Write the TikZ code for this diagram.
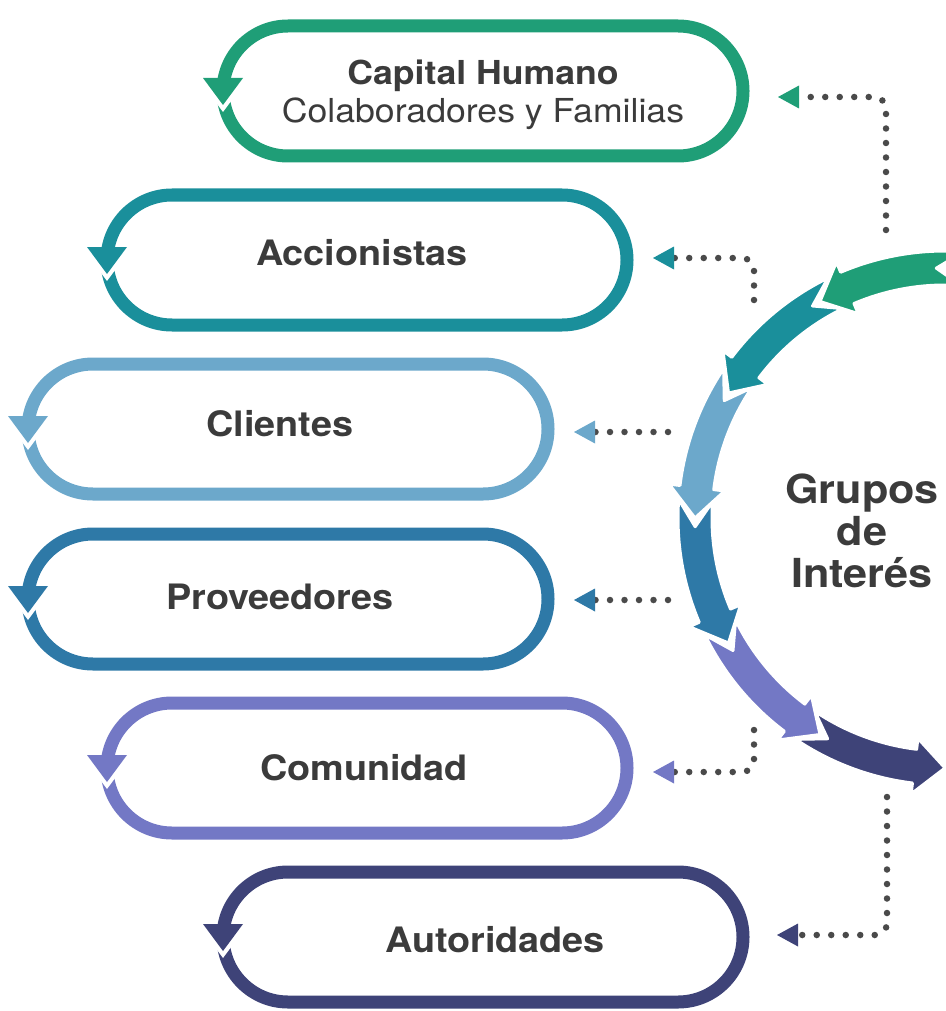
\documentclass[tikz,border=0pt]{standalone}
\usepackage{fontspec}
\setmainfont[FakeStretch=1.08]{TeX Gyre Heros}
\usetikzlibrary{shapes.misc,arrows.meta}
\definecolor{cgreen}{HTML}{1F9E77}
\definecolor{cteal}{HTML}{1A8F9B}
\definecolor{clight}{HTML}{6CA8CB}
\definecolor{cblue}{HTML}{2E79A7}
\definecolor{cviolet}{HTML}{7378C5}
\definecolor{cnavy}{HTML}{3E4378}
\definecolor{dotgray}{HTML}{4A4A4A}
\colorlet{txtgray}{black!77}
\tikzstyle{capsule} =[
    rounded rectangle,
    line width=13,
    minimum width=520,
    minimum height=130,
    inner sep=0,
    outer sep=0
    ]
\tikzstyle{grouplabel} =[
    text=txtgray,
    font=\fontsize{35}{35}\selectfont\bfseries
    ]
\tikzstyle{dotline} =[
    draw=dotgray,
    line width=6.5,
    line cap=round,
    dash pattern=on 0pt off 14.5pt,
    rounded corners=12
    ]
\tikzset{tipto/.style={-{Triangle[length=21pt, width=23pt, line width=0pt, color=#1, sep=11pt]}}}
\newcommand{\ringseg}[2]{% ring piece: colour, start angle
  \filldraw[fill=#1, draw=white, line width=3, line join=round]
    ({#2-4}:267) arc[start angle={#2-4}, end angle={#2+23}, radius=267]
    -- ({#2+23}:278) -- ({#2+30}:250) -- ({#2+23}:222) -- ({#2+23}:233)
    arc[start angle={#2+23}, end angle={#2-4}, radius=233]
    -- ({#2+2}:250) -- cycle;}
\newcommand{\caphead}[2]{% head on the left of a capsule
  \fill[white] ([shift={(-20,-6)}]#2.west) -- ([shift={(20,-6)}]#2.west) -- ([shift={(0,21)}]#2.west) -- cycle;
  \fill[#1] ([shift={(-20,-13)}]#2.west) -- ([shift={(20,-13)}]#2.west) -- ([shift={(0,14)}]#2.west) -- cycle;}

\begin{document}
\begin{tikzpicture}[x=1pt, y=-1pt]
\useasboundingbox (0,0) rectangle (945,1011);

% capsules
\node[capsule, draw=cgreen] (cap1) at (483,91) {};
\node[capsule, draw=cteal] (cap2) at (367,260) {};
\node[capsule, draw=clight] (cap3) at (288,429) {};
\node[capsule, draw=cblue] (cap4) at (288,599) {};
\node[capsule, draw=cviolet] (cap5) at (367,768) {};
\node[capsule, draw=cnavy] (cap6) at (483,937) {};
\caphead{cgreen}{cap1}
\caphead{cteal}{cap2}
\caphead{clight}{cap3}
\caphead{cblue}{cap4}
\caphead{cviolet}{cap5}
\caphead{cnavy}{cap6}

\node[text=txtgray, align=center, font=\fontsize{33}{38}\selectfont] (lab1) at (483,95)
    {\textbf{Capital Humano}\\Colaboradores y Familias};
\node[grouplabel] (lab2) at (362,253) {Accionistas};
\node[grouplabel] (lab3) at (280,424) {Clientes};
\node[grouplabel] (lab4) at (280,597) {Proveedores};
\node[grouplabel] (lab5) at (364,768) {Comunidad};
\node[grouplabel] (lab6) at (495,940) {Autoridades};

% ring of arrows
\coordinate (hub) at (945,518);
\begin{scope}[shift={(hub)}, yscale=-1]
\ringseg{cnavy}{240}
\ringseg{cviolet}{210}
\ringseg{cblue}{180}
\ringseg{clight}{150}
\ringseg{cteal}{120}
\ringseg{cgreen}{90}
\end{scope}
\node[grouplabel, align=center, font=\fontsize{40}{42}\selectfont\bfseries] (title) at (862,531)
    {Grupos\\de\\Interés};

% dotted links
\coordinate (s1) at (886,230);
\coordinate (s2) at (754,300);
\coordinate (s3) at (668,432);
\coordinate (s4) at (668,600);
\coordinate (s5) at (754,730);
\coordinate (s6) at (887,797);
\draw[dotline, tipto=cgreen] (s1) |- ([xshift=24, yshift=-6]cap1.east);
\draw[dotline, tipto=cteal] (s2) |- ([xshift=15, yshift=2]cap2.east);
\draw[dotline, tipto=clight] (s3) -- ([xshift=15, yshift=-3]cap3.east);
\draw[dotline, tipto=cblue] (s4) -- ([xshift=15, yshift=-1]cap4.east);
\draw[dotline, tipto=cviolet] (s5) |- ([xshift=15, yshift=-4]cap5.east);
\draw[dotline, tipto=cnavy] (s6) |- ([xshift=23, yshift=2]cap6.east);
\end{tikzpicture}
\end{document}
